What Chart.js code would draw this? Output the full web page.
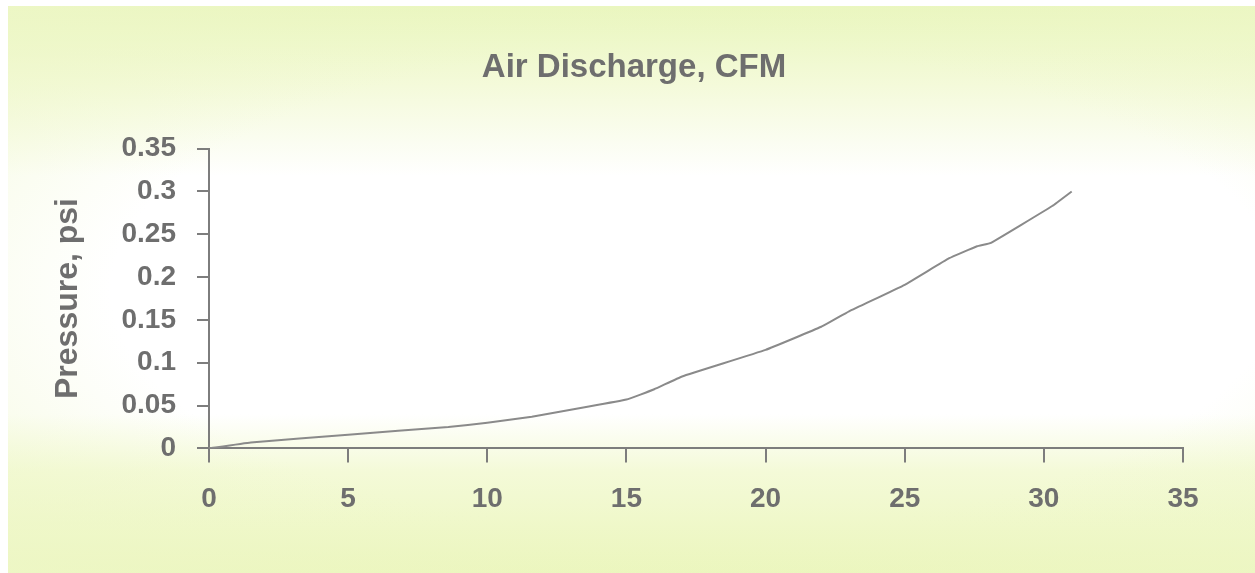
<!DOCTYPE html>
<html>
<head>
<meta charset="utf-8">
<script src="https://cdn.jsdelivr.net/npm/chart.js@4.4.1/dist/chart.umd.min.js"></script>
<style>
  html, body { margin: 0; padding: 0; overflow: hidden; background: #fff; }
  #wrap {
    position: fixed; left: 8px; top: 6px; width: 1247px; height: 567px;
    background:
      linear-gradient(to bottom, #e9f6bd 0%, #f4fada 14%, #ffffff 30%, #ffffff 72%, #f4fad8 82%, #ebf6bc 100%);
  }
  #wrap::after {
    content: ''; position: absolute; inset: 0;
    background: radial-gradient(ellipse at 55% 50%, rgba(255,255,255,0) 60%, rgba(238,247,200,0.7) 100%);
  }
  canvas { position: fixed; left: 0; top: 0; z-index: 1; }
</style>
</head>
<body>
<div id="wrap"></div>
<canvas id="chart" width="1255" height="573"></canvas>
<script>
// Air discharge (CFM) vs pressure (psi)
const cfm      = [0, 1.5, 5, 8.6, 10, 11.6, 13.5, 15, 16, 17, 20, 22, 23, 25, 26.6, 27.6, 28.1, 30.3, 31];
const pressure = [0, 0.007, 0.016, 0.025, 0.030, 0.037, 0.048, 0.057, 0.069, 0.084, 0.115, 0.142, 0.160, 0.191, 0.222, 0.236, 0.240, 0.283, 0.300];

const xTicks = [0, 5, 10, 15, 20, 25, 30, 35];
const yTicks = [0, 0.05, 0.1, 0.15, 0.2, 0.25, 0.3, 0.35];

const GREY_TEXT = '#6e6e6e';
const GREY_AXIS = '#7d7d7d';
const FONT = 'Liberation Sans, Arial, sans-serif';

const points = cfm.map((x, i) => ({ x: x, y: pressure[i] }));

new Chart(document.getElementById('chart').getContext('2d'), {
    type: 'line',
    data: {
        datasets: [{
            label: 'Pressure',
            data: points,
            borderColor: '#8a8a8a',
            borderWidth: 2,
            pointRadius: 0,
            tension: 0.1,
            fill: false
        }]
    },
    options: {
        responsive: false,
        animation: false,
        layout: { padding: { left: 85, right: 72, top: 0, bottom: 37 } },
        plugins: {
            legend: { display: false },
            tooltip: { enabled: false },
            title: {
                display: true,
                text: 'Air Discharge, CFM',
                color: GREY_TEXT,
                font: { family: FONT, size: 33, weight: 'bold' },
                padding: { top: 48, bottom: 61 }
            }
        },
        scales: {
            x: {
                type: 'linear',
                min: 0, max: 35,
                afterBuildTicks: (axis) => { axis.ticks = xTicks.map(v => ({ value: v })); },
                border: { display: true, color: GREY_AXIS, width: 2 },
                grid: { drawOnChartArea: false, drawTicks: true, tickLength: 14, color: GREY_AXIS, lineWidth: 2 },
                ticks: {
                    color: GREY_TEXT,
                    padding: 20,
                    maxRotation: 0,
                    font: { family: FONT, size: 28, weight: 'bold' }
                }
            },
            y: {
                min: 0, max: 0.35,
                afterBuildTicks: (axis) => { axis.ticks = yTicks.map(v => ({ value: v })); },
                afterFit: (axis) => { axis.width = 124; },
                border: { display: true, color: GREY_AXIS, width: 2 },
                grid: { drawOnChartArea: false, drawTicks: true, tickLength: 12, color: GREY_AXIS, lineWidth: 2 },
                ticks: {
                    color: GREY_TEXT,
                    padding: 21,
                    callback: (v) => String(Math.round(v * 100) / 100),
                    font: { family: FONT, size: 28, weight: 'bold' }
                },
                title: {
                    display: true,
                    text: 'Pressure, psi',
                    color: GREY_TEXT,
                    padding: { top: -36, bottom: 0 },
                    font: { family: FONT, size: 32, weight: 'bold' }
                }
            }
        }
    }
});
</script>
</body>
</html>
